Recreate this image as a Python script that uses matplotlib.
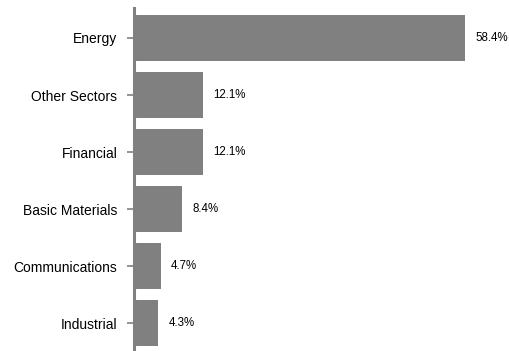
import matplotlib
matplotlib.use("Agg")
import matplotlib.pyplot as plt

sectors = ["Energy", "Other Sectors", "Financial", "Basic Materials", "Communications", "Industrial"]
weights = [58.4, 12.1, 12.1, 8.4, 4.7, 4.3]
value_labels = ["58.4%", "12.1%", "12.1%", "8.4%", "4.7%", "4.3%"]

plt.rcParams['font.family'] = ['Liberation Sans', 'DejaVu Sans']

fig = plt.figure(figsize=(5.1, 3.51), dpi=100)
ax = fig.add_axes([134 / 510, 0, 371 / 510, 343 / 351])

pos = list(range(len(sectors)))
ax.barh(pos, weights, height=0.8, color='#808080')
ax.set_yticks(pos)
ax.set_yticklabels(sectors, fontsize=10)
ax.set_ylim(5.49, -0.526)
ax.set_xlim(0, 65.4)

for p, w, lab in zip(pos, weights, value_labels):
    ax.annotate(lab, (w, p), xytext=(7.5, 0), textcoords='offset points',
                va='center', ha='left', fontsize=8.3)

for s in ['top', 'right', 'bottom']:
    ax.spines[s].set_visible(False)
ax.spines['left'].set_color('#808080')
ax.spines['left'].set_linewidth(2.2)
ax.tick_params(axis='y', length=5, width=1.2, color='#808080', pad=7)
ax.set_xticks([])

fig.savefig("out.png", dpi=100)
